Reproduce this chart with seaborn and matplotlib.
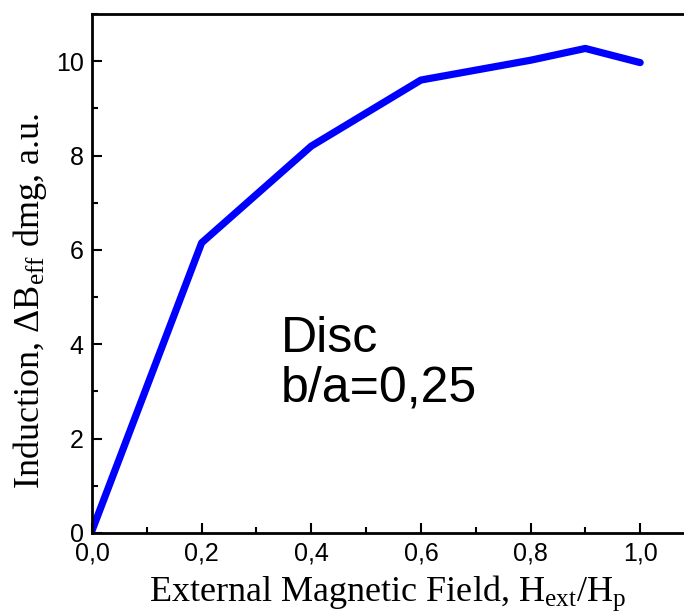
import matplotlib
matplotlib.use("Agg")
import matplotlib.pyplot as plt
import seaborn as sns
import pandas as pd
from matplotlib.ticker import MultipleLocator, FixedLocator, FixedFormatter

field = [0.0, 0.2, 0.4, 0.6, 0.8, 0.9, 1.0]
induction = [0.05, 6.15, 8.2, 9.6, 10.02, 10.27, 9.97]
xtick_vals = [0.0, 0.2, 0.4, 0.6, 0.8, 1.0]
xtick_labels = ["0,0", "0,2", "0,4", "0,6", "0,8", "1,0"]
ytick_vals = [0, 2, 4, 6, 8, 10]
ytick_labels = ["0", "2", "4", "6", "8", "10"]

sns.set_style("ticks")
plt.rcParams["font.family"] = ["Liberation Sans", "DejaVu Sans"]
plt.rcParams["mathtext.fontset"] = "custom"
plt.rcParams["mathtext.rm"] = "Liberation Serif"
plt.rcParams["mathtext.it"] = "Liberation Serif:italic"
plt.rcParams["text.color"] = "black"
plt.rcParams["axes.labelcolor"] = "black"

df = pd.DataFrame({"field": field, "induction": induction})

fig = plt.figure(figsize=(6.84, 6.15), dpi=100)
ax = fig.add_axes([92/684, 1-533/615, 1-92/684, (533-14)/615])
sns.lineplot(data=df, x="field", y="induction", ax=ax, color="#0000ff", linewidth=5.2)

ax.set_xlim(0, 1.08)
ax.set_ylim(0, 11)
ax.xaxis.set_major_locator(FixedLocator(xtick_vals))
ax.xaxis.set_major_formatter(FixedFormatter(xtick_labels))
ax.yaxis.set_major_locator(FixedLocator(ytick_vals))
ax.yaxis.set_major_formatter(FixedFormatter(ytick_labels))
ax.xaxis.set_minor_locator(MultipleLocator(0.1))
ax.yaxis.set_minor_locator(MultipleLocator(1))
ax.tick_params(which="major", direction="in", length=7, width=1.5, labelsize=18, pad=6,
               colors="black", labelcolor="black")
ax.tick_params(which="minor", direction="in", length=4, width=1.5, colors="black")
ax.tick_params(top=False, right=False, which="both")
for s in ["left", "bottom", "top"]:
    ax.spines[s].set_linewidth(2)
    ax.spines[s].set_color("black")
ax.spines["right"].set_visible(False)

ax.set_xlabel(r"External Magnetic Field, H$_{\mathrm{ext}}$/H$_{\mathrm{p}}$",
              family="Liberation Serif", fontsize=26, labelpad=6, color="black")
ax.set_ylabel(r"Induction, $\Delta$B$_{\mathrm{eff}}$ dmg, a.u.",
              family="Liberation Serif", fontsize=26, color="black")
ax.yaxis.set_label_coords(-0.072, 0.447)

ax.text(0.345, 2.78, "Disc\nb/a=0,25", fontsize=36, ha="left", va="baseline",
        linespacing=1.1, family="Liberation Sans", color="black")

fig.savefig("out.png", dpi=100)
